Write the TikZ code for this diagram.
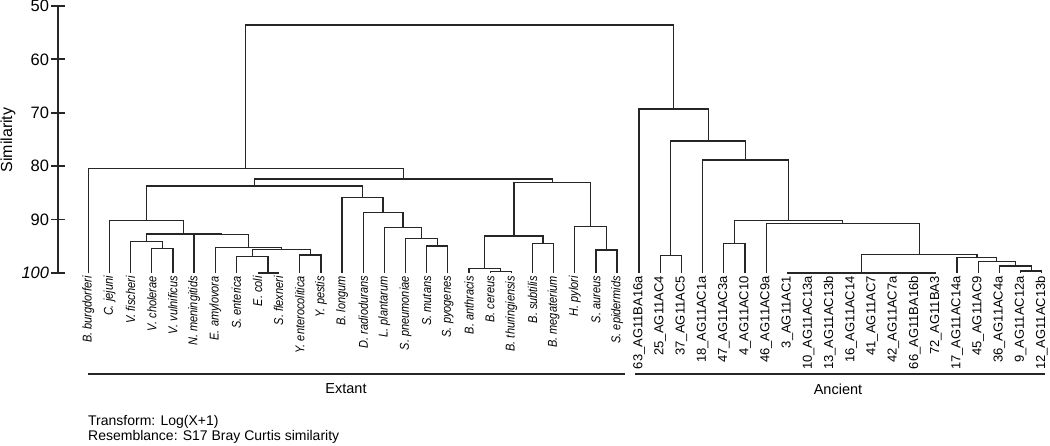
\documentclass[tikz,border=0pt]{standalone}
\usepackage{fontspec}
\setmainfont{Liberation Sans}
\newfontfamily\narrowsans[FakeStretch=0.86]{Liberation Sans}
\usetikzlibrary{calc}

% merge two clusters #2 and #3 into #1 at height #4
\newcommand{\joinpair}[4]{%
  \path let \p1=($(#2)!.5!(#3)$), \p2=(0,#4) in coordinate (#1) at (\x1,\y2);
  \draw[branch] (#2) |- (#1) -| (#3);}

\begin{document}
\begin{tikzpicture}[x=1pt,y=-1pt,
  branch/.style={line width=1.25pt,black!85},
  exlab/.style={rotate=90,anchor=east,inner sep=0pt,font=\narrowsans\fontsize{12.8}{14}\selectfont\itshape},
  anlab/.style={rotate=90,anchor=east,inner sep=0pt,font=\fontsize{13}{15}\selectfont},
  ticklab/.style={anchor=east,inner sep=0pt,font=\fontsize{16.5}{18}\selectfont},
  grouplab/.style={font=\fontsize{14.5}{16}\selectfont},
  note/.style={anchor=west,inner sep=0pt,font=\fontsize{14}{16}\selectfont}]
\useasboundingbox (0,0) rectangle (1050,446);

% similarity axis
\coordinate (ax0) at (58.3,6);
\coordinate (ax1) at (58.3,273);
\draw[line width=1.8pt,black!85] (ax0) -- (ax1);
\foreach \s/\t in {50/50,60/60,70/70,80/80,90/90,100/\textit{100}}{
  \coordinate (tk\s) at (58.3,{6+(\s-50)*5.34});
  \draw[line width=1.8pt,black!85] ([xshift=-7pt]tk\s) -- ([xshift=7pt]tk\s);
  \node[ticklab] (tl\s) at ([xshift=-9pt]tk\s) {\t};
}
\node[rotate=90,font=\fontsize{16}{18}\selectfont] (ylab) at (8,140) {Similarity};

% leaves
\foreach \lab [count=\i from 0] in {B. burgdorferi,C. jejuni,V. fischeri,V. cholerae,
  V. vulnificus,N. meningitids,E. amylovora,S. enterica,E. coli,S. flexneri,
  Y. enterocolitica,Y. pestis,B. longum,D. radiodurans,L. plantarum,S. pneumoniae,
  S. mutans,S. pyogenes,B. anthracis,B. cereus,B. thuringiensis,B. subtilis,
  B. megaterium,H. pylori,S. aureus,S. epidermids}{
  \coordinate (e\i) at ({88.3+21.15*\i},273);
  \node[exlab] (le\i) at ([yshift=-3pt]e\i) {\lab};
}
\foreach \lab [count=\i from 0] in {63\_AG11BA16a,25\_AG11AC4,37\_AG11AC5,
  18\_AG11AC1a,47\_AG11AC3a,4\_AG11AC10,46\_AG11AC9a,3\_AG11AC1,10\_AG11AC13a,
  13\_AG11AC13b,16\_AG11AC14,41\_AG11AC7,42\_AG11AC7a,66\_AG11BA16b,72\_AG11BA3,
  17\_AG11AC14a,45\_AG11AC9,36\_AG11AC4a,9\_AG11AC12a,12\_AG11AC13b}{
  \coordinate (a\i) at ({639+21.2*\i},273);
  \node[anlab] (la\i) at ([yshift=-3pt]a\i) {\lab};
}

% extant clusters
\joinpair{ecsf}{e8}{e9}{273}
\joinpair{sent}{e7}{ecsf}{256.7}
\joinpair{yers}{e10}{e11}{255}
\joinpair{ent1}{sent}{yers}{249.3}
\joinpair{ent2}{e6}{ent1}{247.3}
\joinpair{vcvv}{e3}{e4}{248.3}
\joinpair{vibr}{e2}{vcvv}{241.7}
\joinpair{prot1}{e5}{ent2}{234.7}
\joinpair{prot2}{vibr}{prot1}{234}
\joinpair{prot3}{e1}{prot2}{220.7}
\joinpair{strep1}{e16}{e17}{246}
\joinpair{strep2}{e15}{strep1}{238.3}
\joinpair{lact}{e14}{strep2}{227.3}
\joinpair{dein}{e13}{lact}{212.3}
\joinpair{bifi}{e12}{dein}{197.3}
\joinpair{mix1}{prot3}{bifi}{186}
\joinpair{bcbt}{e19}{e20}{271.3}
\joinpair{banth}{e18}{bcbt}{268.7}
\joinpair{bsbm}{e21}{e22}{243.3}
\joinpair{bac}{banth}{bsbm}{236}
\joinpair{staph}{e24}{e25}{250}
\joinpair{hpyl}{e23}{staph}{226.7}
\joinpair{firm}{bac}{hpyl}{182.3}
\joinpair{mix2}{mix1}{firm}{179}
\joinpair{ext}{e0}{mix2}{168.3}

% ancient clusters
\joinpair{ac45}{a1}{a2}{255.7}
\joinpair{flat}{a7}{a14}{273}
\joinpair{an1}{a18}{a19}{271}
\joinpair{an2}{a17}{an1}{266}
\joinpair{an3}{a16}{an2}{261.7}
\joinpair{an4}{a15}{an3}{257.7}
\joinpair{an5}{flat}{an4}{254.3}
\joinpair{an6}{a6}{an5}{223.3}
\joinpair{ac310}{a4}{a5}{243.3}
\joinpair{an7}{ac310}{an6}{220.7}
\joinpair{an8}{a3}{an7}{160}
\joinpair{an9}{ac45}{an8}{141}
\joinpair{anc}{a0}{an9}{109}

\joinpair{root}{ext}{anc}{25}

% groups
\coordinate (exl) at (88,374);
\coordinate (exr) at (625,374);
\coordinate (anl) at (635,374);
\coordinate (anr) at (1045,374);
\draw[line width=2.8pt,black!85] (exl) -- (exr);
\draw[line width=2.8pt,black!85] (anl) -- (anr);
\node[grouplab] (extant) at (346,389) {Extant};
\node[grouplab] (ancient) at (838,389) {Ancient};

\node[note] (tr) at (88,421.5) {Transform: Log(X+1)};
\node[note] (rs) at (88,436.5) {Resemblance: S17 Bray Curtis similarity};
\end{tikzpicture}
\end{document}
